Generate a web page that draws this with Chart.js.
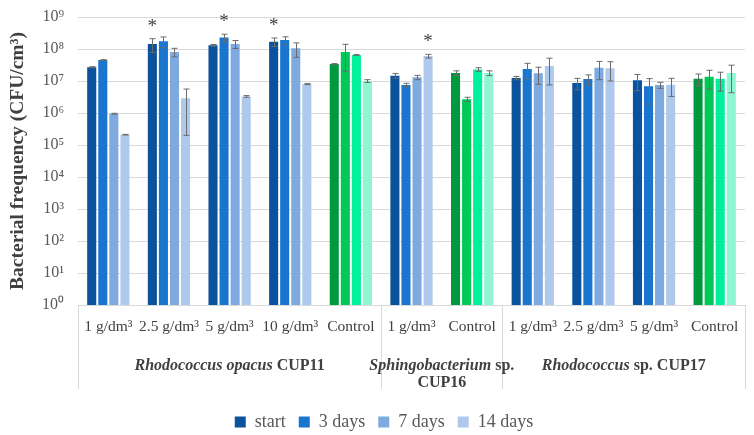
<!DOCTYPE html>
<html>
<head>
<meta charset="utf-8">
<script src="https://cdn.jsdelivr.net/npm/chart.js@4/dist/chart.umd.min.js"></script>
<style>
  html, body { margin: 0; padding: 0; background: #fff; }
  #wrap { width: 754px; height: 435px; }
</style>
</head>
<body>
<div id="wrap"><canvas id="c" width="754" height="435"></canvas></div>
<script>
// 類別標籤 (x 軸第一層)
const categories = ["1 g/dm³", "2.5 g/dm³", "5 g/dm³", "10 g/dm³", "Control",
  "1 g/dm³", "Control",
  "1 g/dm³", "2.5 g/dm³", "5 g/dm³", "Control"]
// 第二層: 菌株群組 (起訖 index)
const groups = [
  { from: 0, to: 4, lines: [[["Rhodococcus opacus", true], [" CUP11", false]]] },
  { from: 5, to: 6, lines: [[["Sphingobacterium", true], [" sp.", false]], [["CUP16", false]]] },
  { from: 7, to: 10, lines: [[["Rhodococcus", true], [" sp. CUP17", false]]] },
]
const controlIdx = [4, 6, 10]

const seriesNames = ["start", "3 days", "7 days", "14 days"]
const startVals = [2.7e7, 1.44e8, 1.3e8, 1.7e8, 3.4e7, 1.47e7, 1.78e7, 1.24e7, 8.7e6, 1.05e7, 1.18e7]
const startErr = [1e6, 6.6e7, 8e6, 5e7, 1e6, 2.5e6, 3e6, 1.5e6, 3.4e6, 5.5e6, 4.7e6]
const threeVals = [4.5e7, 1.74e8, 2.3e8, 1.9e8, 8e7, 7.5e6, 2.7e6, 2.37e7, 1.15e7, 6.9e6, 1.36e7]
const threeErr = [1.5e6, 6.4e7, 6e7, 5e7, 6e7, 1e6, 4e5, 1.2e7, 4e6, 5e6, 8e6]
const sevenVals = [9.5e5, 8.1e7, 1.44e8, 1.05e8, 6.5e7, 1.3e7, 2.3e7, 1.74e7, 2.6e7, 7.5e6, 1.18e7]
const sevenErr = [3e4, 2.4e7, 4e7, 5e7, 2e6, 2e6, 3e6, 9.5e6, 1.5e7, 1.6e6, 7e6]
const fourteenVals = [2.1e5, 2.9e6, 3.3e6, 8e6, 1e7, 6e7, 1.78e7, 2.95e7, 2.5e7, 7.7e6, 1.78e7]
const fourteenErr = [5e3, 2.7e6, 2e5, 3e5, 1e6, 8e6, 3e6, 2.2e7, 1.5e7, 4.4e6, 1.35e7]

// 顯著差異星號: [類別 index, 系列 index]
const stars = [[1, 0], [2, 1], [3, 0], [5, 3]]

const blues = ["#0b529c", "#1a75cf", "#7eaadf", "#aec9eb"]
const greens = ["#00993d", "#00c957", "#00f09b", "#8ff5d2"]

const FONT = "'Liberation Serif', 'Times New Roman', serif"
const SUP = "⁰¹²³⁴⁵⁶⁷⁸⁹"

const allVals = [startVals, threeVals, sevenVals, fourteenVals]
const allErr = [startErr, threeErr, sevenErr, fourteenErr]

// 誤差線
const errorBars = {
  id: "errorBars",
  afterDatasetsDraw(chart) {
    const { ctx, scales: { y } } = chart
    ctx.save()
    ctx.strokeStyle = "#6b6b6b"
    ctx.lineWidth = 1
    chart.data.datasets.forEach((ds, di) => {
      const meta = chart.getDatasetMeta(di)
      meta.data.forEach((bar, i) => {
        const v = ds.data[i], e = allErr[di][i]
        const yt = y.getPixelForValue(v + e)
        const yb = y.getPixelForValue(Math.max(v - e, 1))
        const x = Math.round(bar.x) + 0.5
        ctx.beginPath()
        ctx.moveTo(x, yt); ctx.lineTo(x, yb)
        ctx.moveTo(x - 3, yt); ctx.lineTo(x + 3, yt)
        ctx.moveTo(x - 3, yb); ctx.lineTo(x + 3, yb)
        ctx.stroke()
      })
    })
    // 星號
    ctx.fillStyle = "#404040"
    ctx.font = "19px " + FONT
    ctx.textAlign = "center"
    ctx.textBaseline = "middle"
    stars.forEach(([ci, si]) => {
      const bar = chart.getDatasetMeta(si).data[ci]
      const top = y.getPixelForValue(allVals[si][ci] + allErr[si][ci])
      ctx.fillText("*", bar.x, top - 12)
    })
    ctx.restore()
  },
}

// 多層 x 軸標籤
const multiAxis = {
  id: "multiAxis",
  afterLayout(chart) {
    // 圖例往右挪一點, 對齊原圖
    chart.legend.left += 9
    chart.legend.right += 9
  },
  afterDraw(chart) {
    const { ctx, chartArea, scales: { x } } = chart
    const base = chartArea.bottom
    const step = x.getPixelForValue(1) - x.getPixelForValue(0)
    ctx.save()
    ctx.strokeStyle = "#d9d9d9"
    ctx.lineWidth = 1
    const bounds = [x.getPixelForValue(0) - step / 2]
    groups.forEach((g) => bounds.push(x.getPixelForValue(g.to) + step / 2))
    bounds.forEach((bx) => {
      const px = Math.round(bx) + 0.5
      ctx.beginPath()
      ctx.moveTo(px, base)
      ctx.lineTo(px, base + 84)
      ctx.stroke()
    })
    ctx.fillStyle = "#404040"
    ctx.textBaseline = "middle"
    ctx.textAlign = "center"
    ctx.font = "15.5px " + FONT
    categories.forEach((c, i) => ctx.fillText(c, x.getPixelForValue(i), base + 22))
    ctx.textAlign = "left"
    groups.forEach((g) => {
      const cx = (x.getPixelForValue(g.from) + x.getPixelForValue(g.to)) / 2
      g.lines.forEach((parts, li) => {
        const fonts = parts.map(([t, it]) => (it ? "italic bold " : "bold ") + "16px " + FONT)
        let w = 0
        parts.forEach(([t], k) => { ctx.font = fonts[k]; w += ctx.measureText(t).width })
        let px = cx - w / 2
        parts.forEach(([t], k) => {
          ctx.font = fonts[k]
          ctx.fillText(t, px, base + 61 + li * 17)
          px += ctx.measureText(t).width
        })
      })
    })
    ctx.restore()
  },
}

const datasets = allVals.map((vals, si) => ({
  label: seriesNames[si],
  data: vals,
  backgroundColor: (c) => (controlIdx.includes(c.dataIndex) ? greens[si] : blues[si]),
  borderWidth: 0,
  categoryPercentage: 0.73,
  barPercentage: 0.82,
}))

new Chart(document.getElementById("c"), {
  type: "bar",
  data: { labels: categories, datasets },
  options: {
    responsive: false,
    animation: false,
    layout: { padding: { top: 17, right: 9, left: 5, bottom: -6 } },
    plugins: {
      tooltip: { enabled: false },
      legend: {
        position: "bottom",
        labels: {
          boxWidth: 11,
          boxHeight: 11,
          padding: 13,
          color: "#595959",
          font: { family: FONT, size: 18 },
        },
      },
    },
    scales: {
      x: {
        grid: { display: false },
        border: { display: false },
        ticks: { display: false },
        afterFit: (s) => { s.height = 95 },
      },
      y: {
        type: "logarithmic",
        min: 1,
        max: 1e9,
        afterBuildTicks: (s) => {
          s.ticks = [0, 1, 2, 3, 4, 5, 6, 7, 8, 9].map((e) => ({ value: Math.pow(10, e) }))
        },
        afterFit: (s) => {
          s.width = 73
          s.paddingTop = 0
          s.paddingBottom = 0
        },
        grid: { color: "#d9d9d9", drawTicks: false },
        border: { display: false },
        ticks: {
          padding: 14,
          color: "#595959",
          font: { family: FONT, size: 16 },
          callback: (v) => "10" + SUP[Math.round(Math.log10(v))],
        },
        title: {
          display: true,
          text: "Bacterial frequency (CFU/cm³)",
          color: "#404040",
          font: { family: FONT, size: 19.5, weight: "bold" },
          padding: { top: 1, bottom: 0 },
        },
      },
    },
  },
  plugins: [errorBars, multiAxis],
})
</script>
</body>
</html>
